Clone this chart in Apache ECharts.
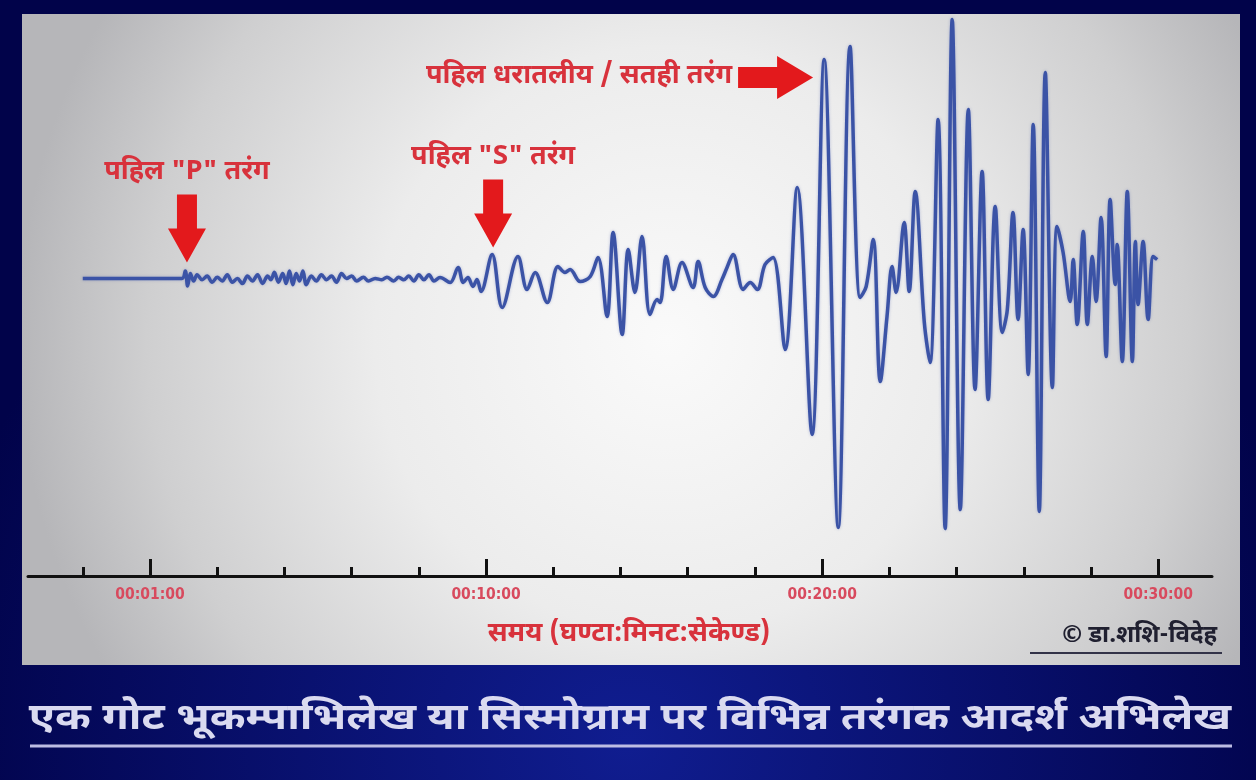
<!DOCTYPE html>
<html><head><meta charset="utf-8">
<script src="https://cdn.jsdelivr.net/npm/echarts@6/dist/echarts.min.js"></script>
<style>html,body{margin:0;padding:0;background:#02054f}#c{width:1256px;height:780px}</style>
</head><body><div id="c"></div>
<script>
// time in minutes, amplitude in arbitrary units (baseline 0)
const preP = [[-2.0,0],[0.95,0]];
const pWave = [[1.05,3],[1.12,-3],[1.2,2],[1.3,-1],[1.4,1.5],[1.55,-0.5],[1.7,1],[1.85,-1.5],[2.0,0.5],[2.15,-1],[2.3,1.5],[2.45,-1.5],[2.6,0],[2.75,-2],[2.9,1],[3.05,-1],[3.2,1.5],[3.35,-2],[3.5,1],[3.6,-0.5],[3.7,2.5],[3.82,-1.5],[3.95,2],[4.05,-2],[4.15,3],[4.25,-2.5],[4.35,2],[4.45,-1],[4.55,3],[4.65,-2.5],[4.8,1],[4.95,-1],[5.1,1.5],[5.25,-0.5],[5.4,1],[5.55,-1.5],[5.7,2],[5.85,0],[6.0,1],[6.15,-1],[6.35,0.5],[6.5,-1],[6.7,0],[6.9,-0.5],[7.05,0.5],[7.25,-1],[7.4,0.5],[7.55,-0.5],[7.7,1],[7.85,-1],[8.0,1.5],[8.15,-0.5],[8.3,1.5],[8.45,-1],[8.63,0.4],[8.93,-1.6],[9.17,4.4],[9.32,-1.6],[9.46,0.4],[9.61,-3.2],[9.73,-0.4],[9.85,-5.2]];
const sWave = [[10.18,9.6],[10.48,-11.6],[10.95,8.8],[11.22,-4.4],[11.46,2.4],[11.82,-9.6],[12.14,4.8],[12.35,2.4],[12.5,3.6],[12.8,-1.2],[13.1,0.8],[13.33,8.4],[13.6,-15.2],[13.78,18.4],[14.05,-22.4],[14.23,11.6],[14.43,-5.6],[14.64,16.8],[14.88,-14.4],[15.09,-8.4],[15.18,-9.6],[15.36,8.8],[15.57,-4.4],[15.83,6.4],[16.16,-3.6],[16.31,6.8],[16.52,-3.6],[16.76,-7.2],[17.02,-0.4],[17.17,4.4],[17.35,9.6],[17.65,-4.4],[17.86,-1.6],[18.07,-4.4],[18.3,5.6],[18.54,8.4]];
const surfaceWave = [[18.9,-28.4],[19.26,36.4],[19.7,-62.4],[20.06,87.6],[20.48,-99.6],[20.83,92.8],[21.13,-7.6],[21.31,-3.2],[21.52,15.6],[21.73,-41.2],[21.93,-15.2],[22.08,4.8],[22.2,-5.6],[22.44,22.4],[22.59,-5.2],[22.77,34.8],[23.04,-17.6],[23.21,-33.6],[23.45,63.6],[23.66,-100],[23.87,103.6],[24.11,-92.4],[24.35,67.6],[24.55,-44.4],[24.76,42.8],[24.94,-48.4],[25.15,28.8],[25.36,-21.6],[25.51,-12.4],[25.68,26.4],[25.83,-16.4],[25.98,19.6],[26.13,-38.4],[26.28,61.6],[26.46,-93.2],[26.64,82.4],[26.85,-43.6],[26.99,20.8],[27.17,10.4],[27.38,-9.2],[27.47,7.6],[27.59,-18.4],[27.77,18.8],[27.89,-18.4],[28.04,8.8],[28.15,-9.2],[28.3,24.4],[28.45,-31.2],[28.57,31.6],[28.72,-2.4],[28.78,13.6],[28.93,-33.2],[29.08,34.8],[29.23,-33.2],[29.32,14.8],[29.4,-10.4],[29.55,14.8],[29.7,-16.4],[29.85,8.8],[29.97,7.6]];

const majorTicks = [0,10,20,30];
const tickLabels = ['00:01:00','00:10:00','00:20:00','00:30:00'];
const minorTicks = [-2,2,4,6,8,12,14,16,18,22,24,26,28];

const annotations = [
  {text:'पहिल "P" तरंग', t:1.10, a:6.4, dir:'down'},
  {text:'पहिल "S" तरंग', t:10.21, a:12.4, dir:'down'},
  {text:'पहिल धरातलीय / सतही तरंग', t:19.73, a:80.4, dir:'right'}
];
const axisTitle = 'समय (घण्टा:मिनट:सेकेण्ड)';
const chartTitle = 'एक गोट भूकम्पाभिलेख या सिस्मोग्राम पर विभिन्न तरंगक आदर्श अभिलेख';
const credit = '© डा.शशि-विदेह';

const DEV = "'Noto Sans Devanagari','Noto Sans',sans-serif";
const downArrow = 'path://M9,0 L29,0 L29,34 L38,34 L19,68 L0,34 L9,34 Z';
const rightArrow = 'path://M0,11 L39,11 L39,0 L75,21.5 L39,43 L39,32 L0,32 Z';

const markData = annotations.map(o => o.dir === 'down' ? {
  coord:[o.t,o.a], symbol:downArrow, symbolSize:[38,68], symbolOffset:[0,-34],
  label:{show:true, formatter:o.text, position:'top', distance:7}
} : {
  coord:[o.t,o.a], symbol:rightArrow, symbolSize:[75,43], symbolOffset:[-37.5,0],
  label:{show:true, formatter:o.text, position:'left', distance:6}
});

const chart = echarts.init(document.getElementById('c'));
chart.setOption({
  animation:false,
  backgroundColor:{type:'radial',x:0.5,y:0.95,r:0.9,colorStops:[{offset:0,color:'#101d90'},{offset:1,color:'#01034a'}]},
  graphic:[
    {type:'rect', z:-10, shape:{x:22,y:14,width:1218,height:651},
     style:{fill:{type:'radial',x:0.53,y:0.5,r:1.0,colorStops:[{offset:0,color:'#fafafa'},{offset:0.45,color:'#ececec'},{offset:0.8,color:'#cfcfd0'},{offset:1,color:'#b6b6b9'}]}}},
    {type:'text', z:5, x:630, y:722, scaleX:1.2,
     style:{text:chartTitle, fill:'#dadaf0', font:"bold 36px 'Noto Sans Devanagari','Noto Sans',sans-serif", textAlign:'center', textVerticalAlign:'middle'}},
    {type:'line', z:5, shape:{x1:30,y1:746,x2:1232,y2:746}, style:{stroke:'#bdbde3',lineWidth:3}},
    {type:'line', z:5, shape:{x1:1030,y1:653,x2:1222,y2:653}, style:{stroke:'#333348',lineWidth:2}}
  ],
  title:[
    {text:credit, right:34, top:621, textStyle:{color:'#202030',fontSize:24,fontWeight:'bold',fontFamily:DEV}}
  ],
  grid:{left:28,right:44,top:3.5,bottom:204},
  xAxis:[
    {type:'value', min:-3.63, max:31.6, position:'bottom',
     axisLine:{show:true,onZero:false,lineStyle:{color:'#111',width:3}},
     axisTick:{show:true,customValues:majorTicks,inside:true,length:17,lineStyle:{color:'#111',width:3}},
     axisLabel:{show:true,customValues:majorTicks,formatter:v=>tickLabels[majorTicks.indexOf(v)],color:'#d84a5e',fontSize:15.5,fontWeight:'bold',fontFamily:"'Liberation Sans Narrow','DejaVu Sans Condensed',sans-serif",margin:11},
     splitLine:{show:false},
     name:axisTitle, nameLocation:'middle', nameGap:46,
     nameTextStyle:{color:'#d8323c',fontSize:27,fontWeight:'bold',fontFamily:DEV,padding:[0,0,0,18]}},
    {type:'value', min:-3.63, max:31.6, position:'bottom',
     axisLine:{show:false,onZero:false},
     axisTick:{show:true,customValues:minorTicks,inside:true,length:9,lineStyle:{color:'#111',width:3}},
     axisLabel:{show:false}, splitLine:{show:false}}
  ],
  yAxis:{type:'value', min:-119, max:110, show:false, splitLine:{show:false}},
  series:[{
    type:'line', xAxisIndex:0, showSymbol:false, smooth:0.35, silent:true,
    data: preP.concat(pWave, sWave, surfaceWave),
    lineStyle:{color:'#3b53a6',width:3.5,shadowColor:'rgba(60,80,170,0.35)',shadowBlur:3},
    markPoint:{silent:true, itemStyle:{color:'#e3191c'},
      label:{color:'#d8323c',fontSize:27,fontWeight:'bold',fontFamily:DEV},
      data:markData}
  }]
});
</script></body></html>
